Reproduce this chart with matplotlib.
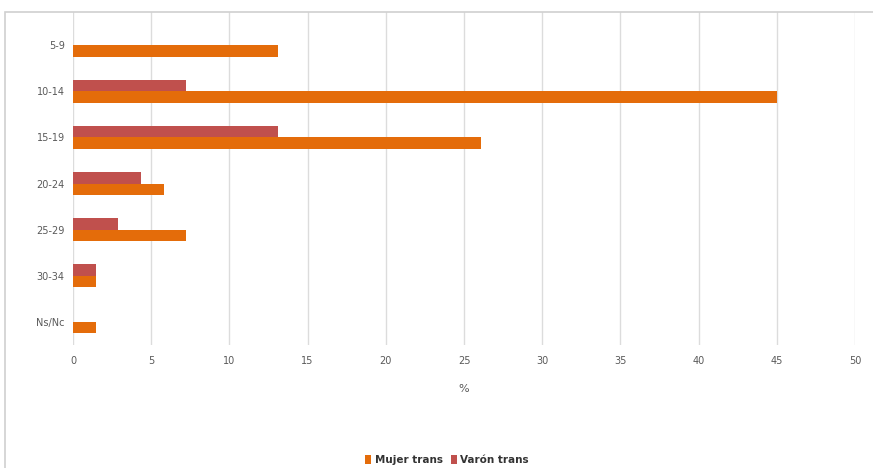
import numpy as np
import matplotlib.pyplot as plt
from matplotlib.patches import Rectangle

grupos = ["5-9", "10-14", "15-19", "20-24", "25-29", "30-34", "Ns/Nc"]
mujer_trans = [13.1, 45.0, 26.1, 5.8, 7.2, 1.45, 1.45]
varon_trans = [0.0, 7.2, 13.1, 4.35, 2.9, 1.45, 0.0]
xticks = [0, 5, 10, 15, 20, 25, 30, 35, 40, 45, 50]

naranja = "#e46c0a"
rojo = "#c0504d"

fig = plt.figure(figsize=(8.73, 4.68), dpi=100)
ax = fig.add_axes([73 / 873, 1 - 345 / 468, (855 - 73) / 873, (345 - 12) / 468])

y = np.arange(len(grupos))
h = 0.25
ax.barh(y + h / 2, mujer_trans, height=h, color=naranja, label="Mujer trans", zorder=3)
ax.barh(y - h / 2, varon_trans, height=h, color=rojo, label="Varón trans", zorder=3)

ax.set_ylim(6.5, -0.72)
ax.set_xlim(0, 50)
ax.set_yticks(y)
ax.set_yticklabels(grupos)
ax.set_xticks(xticks)
ax.tick_params(length=0, labelsize=7, colors="#595959", pad=8)
ax.tick_params(axis="y", pad=6)
ax.grid(axis="x", color="#dcdcdc", linewidth=1, zorder=0)
for s in ax.spines.values():
    s.set_visible(False)
ax.set_xlabel("%", fontsize=8, color="#595959", labelpad=13)

leg = fig.legend(loc="center", bbox_to_anchor=(447 / 873, 1 - 460 / 468), ncol=2,
                 frameon=False, fontsize=7.5, handlelength=0.6, handleheight=0.9,
                 handletextpad=0.3, columnspacing=0.8)
for t in leg.get_texts():
    t.set_fontweight("bold")
    t.set_color("#333333")

# marco gris de la imagen
fig.patches.append(Rectangle((5 / 873, -0.01), 1.0, 1 - 12 / 468 + 0.01,
                             transform=fig.transFigure, fill=False,
                             edgecolor="#d0d0d0", linewidth=1.2))

plt.savefig("out.png", dpi=100)
